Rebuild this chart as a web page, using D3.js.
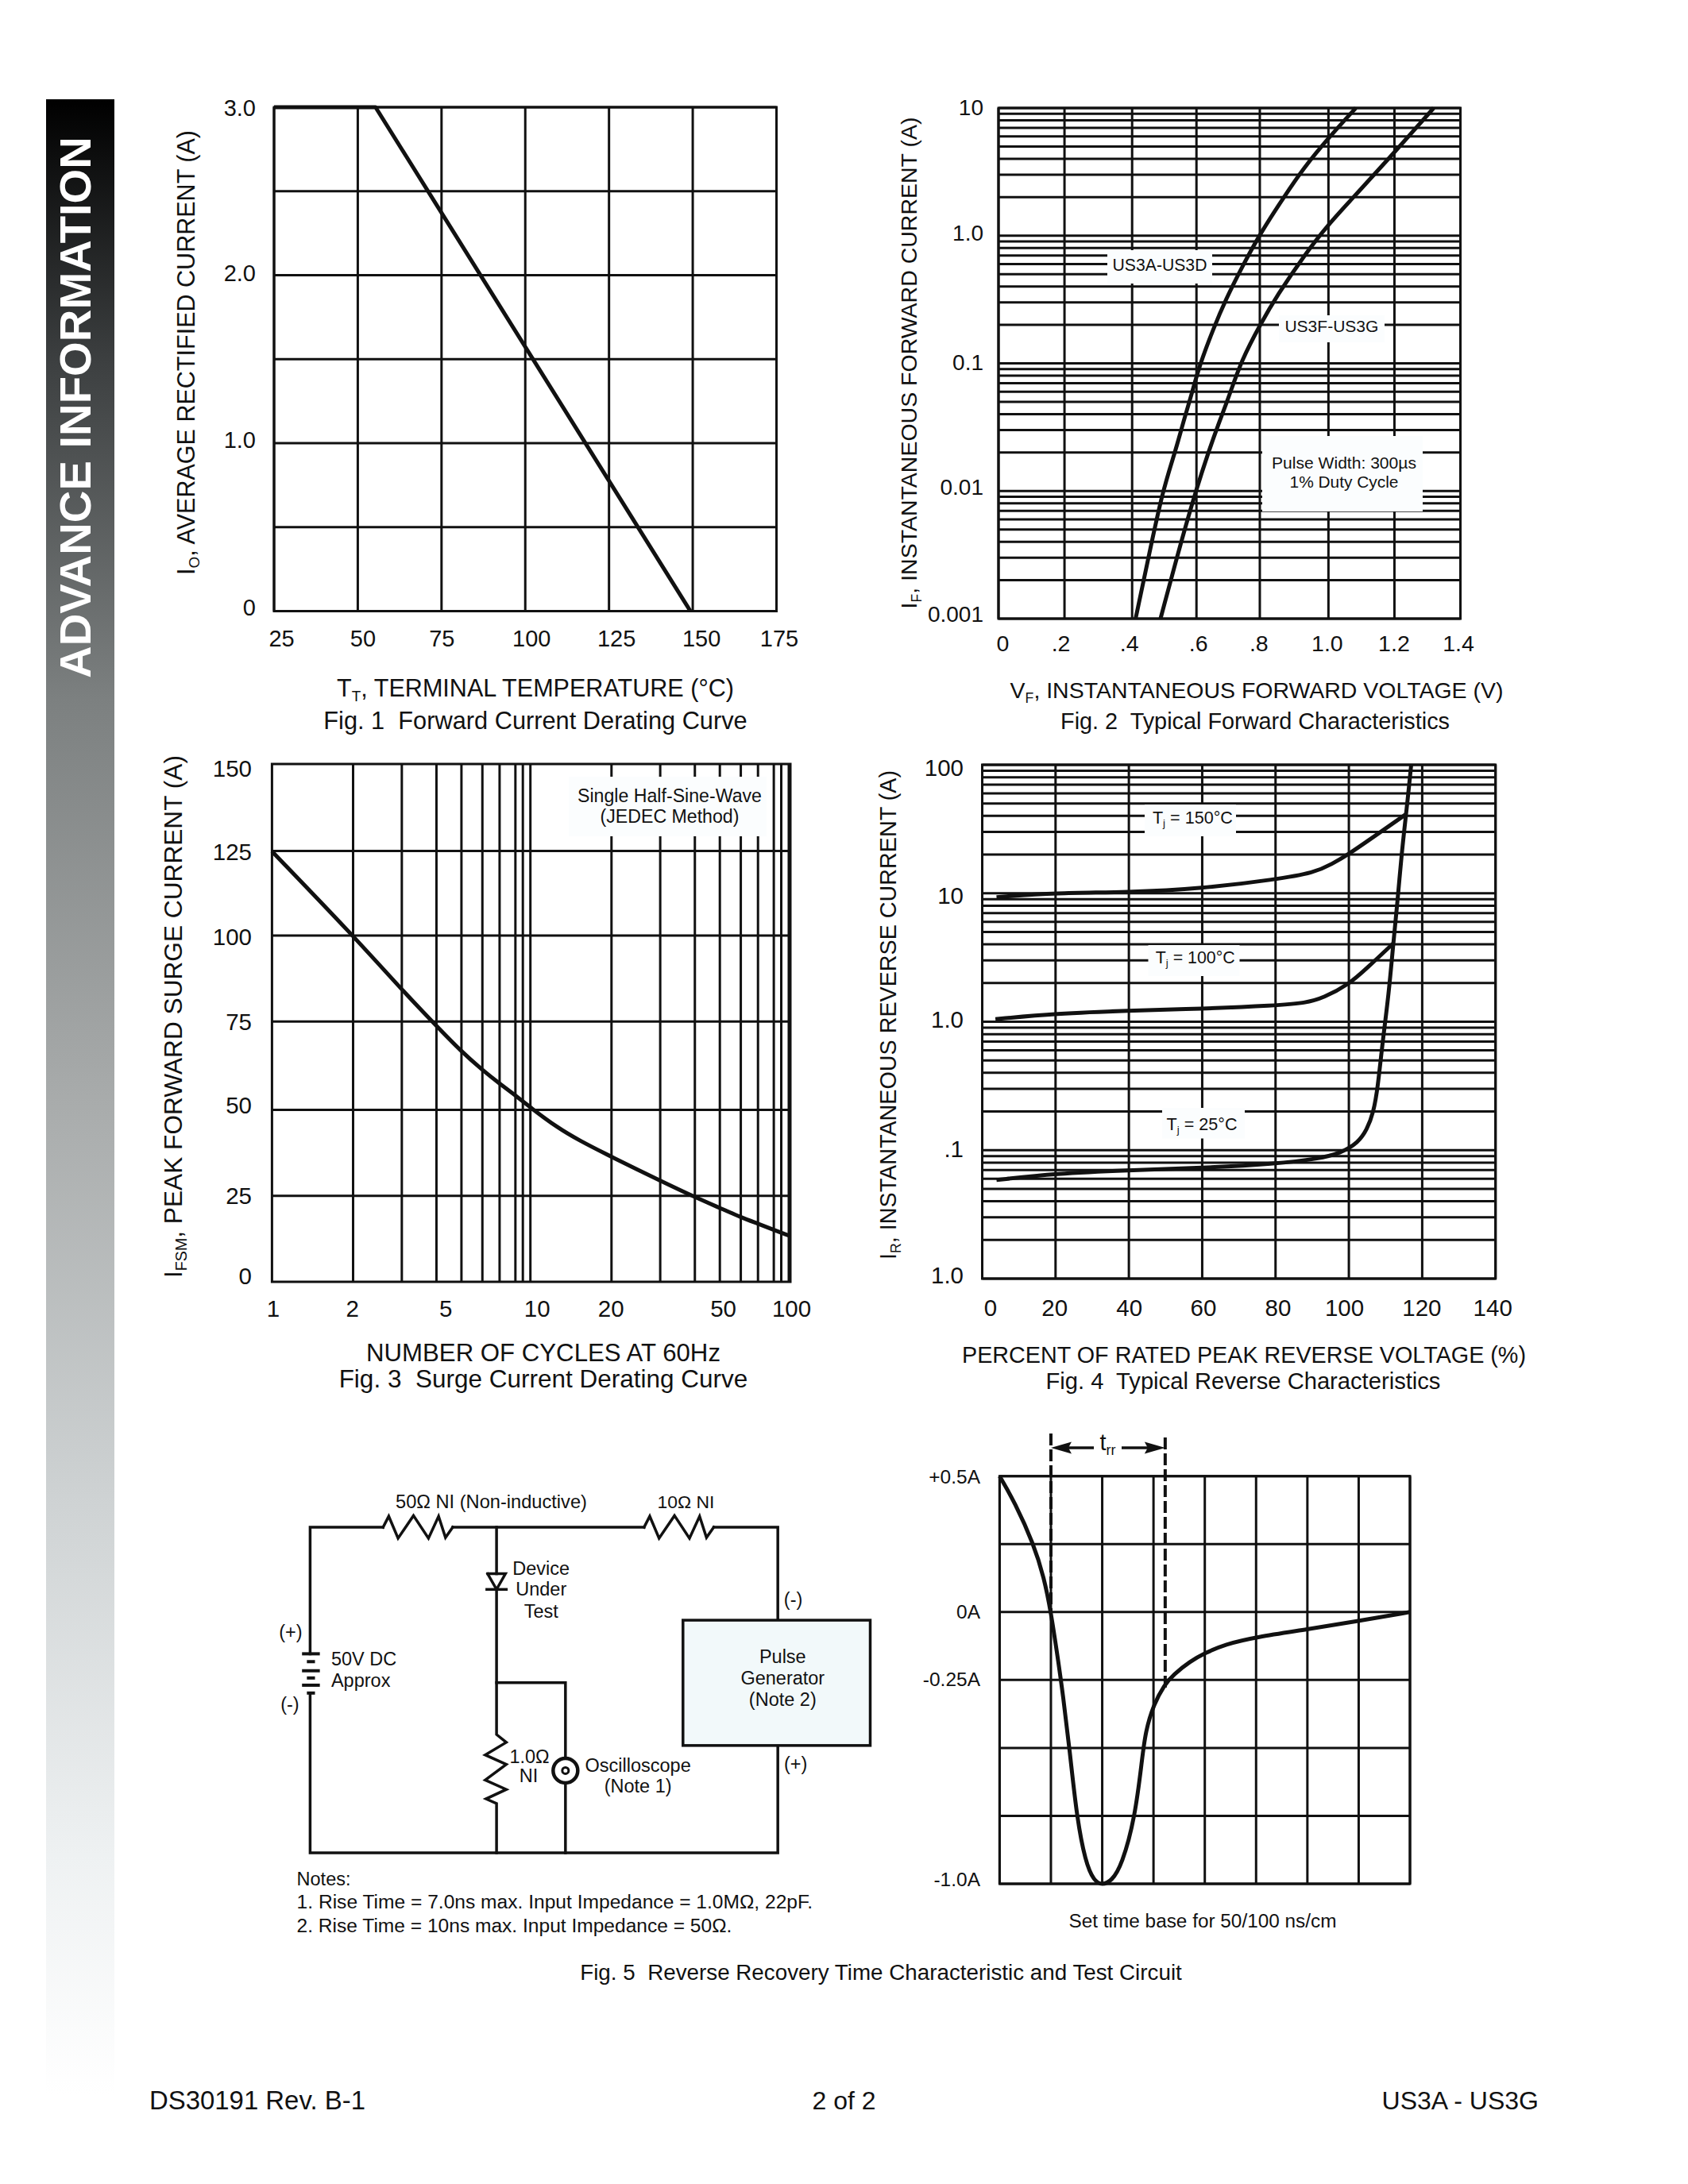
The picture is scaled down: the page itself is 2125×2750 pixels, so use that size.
<!DOCTYPE html>
<html><head><meta charset="utf-8">
<script src="https://cdn.jsdelivr.net/npm/d3@7"></script>
<style>html,body{margin:0;padding:0;background:#fff}svg{display:block}text{font-family:"Liberation Sans",Arial,sans-serif;fill:#111}</style>
</head><body>
<script>
// ---------- Fig 1 data ----------
const fig1Temp = [25, 55.3, 149.3];
const fig1Current = [3, 3, 0];
const fig1XTicks = [25, 50, 75, 100, 125, 150, 175];
const fig1YTicks = [0, 1, 2, 3];
const fig1YTickLabels = ["0", "1.0", "2.0", "3.0"];
const fig1YGrid = [0, .5, 1, 1.5, 2, 2.5, 3];
// ---------- Fig 2 data ----------
const fig2XGrid = [0, .2, .405, .6, .792, 1, 1.2, 1.4];
const fig2XTicks = [0, .2, .4, .6, .8, 1, 1.2, 1.4];
const fig2XTickLabels = ["0", ".2", ".4", ".6", ".8", "1.0", "1.2", "1.4"];
const fig2YTicks = [.001, .01, .1, 1, 10];
const fig2YTickLabels = ["0.001", "0.01", "0.1", "1.0", "10"];
const fig2VoltsAD = [.4155, .453, .497, .537, .561, .585, .609, .652, .689, .737, .794, .867, .922, 1.0015, 1.083];
const fig2AmpsAD = [.001, .00288, .01, .0208, .0354, .0568, .0964, .189, .317, .562, 1.05, 2.04, 3.32, 5.89, 10];
const fig2VoltsFG = [.491, .556, .598, .638, .664, .698, .737, .794, .843, .929, .999, 1.079, 1.204, 1.319];
const fig2AmpsFG = [.001, .00424, .01, .0208, .032, .0545, .1067, .203, .336, .716, 1.22, 2.04, 4.61, 10];
// ---------- Fig 3 data ----------
const fig3XGrid = [2.06, 3.18, 4.33, 5.41, 6.52, 7.6, 8.75, 9.35, 10, 20.6, 31.8, 43.3, 54.1, 65.2, 76, 87.5, 93.5, 100];
const fig3XTicks = [1, 2, 5, 10, 20, 50, 100];
const fig3YGrid = [24.9, 49.8, 75.4, 100.3, 124.8];
const fig3YTicks = [0, 25, 50, 75, 100, 125, 150];
const fig3Cycles = [1, 2.06, 3.17, 4.32, 5.39, 6.49, 7.6, 8.75, 10, 12.7, 15.4, 20.7, 31.8, 43.4, 54.1, 65.2, 76.2, 87.7, 100];
const fig3Surge = [124.7, 100.3, 84.7, 74.2, 66.8, 61.5, 57.4, 54, 50.5, 44.7, 41, 36.1, 29.3, 24.5, 21.4, 18.7, 16.8, 15, 13.4];
// ---------- Fig 4 data ----------
const fig4XTicks = [0, 20, 40, 60, 80, 100, 120, 140];
const fig4YTicks = [.01, .1, 1, 10, 100];
const fig4YTickLabels = ["1.0", ".1", "1.0", "10", "100"];
const fig4Pct150 = [3.9, 20, 39.6, 59.9, 80, 90.7, 95.4, 100, 107.3, 115.6];
const fig4Amp150 = [9.33, 10.07, 10.16, 10.87, 12.8, 14.5, 16.9, 20.2, 28.2, 41.3];
const fig4Pct100 = [3.6, 20, 39.6, 59.9, 80, 88.3, 93, 100, 104.9, 112];
const fig4Amp100 = [1.047, 1.156, 1.22, 1.26, 1.336, 1.4, 1.53, 1.95, 2.61, 4.04];
const fig4Pct25 = [3.9, 20, 39.6, 59.9, 80, 91.9, 97.8, 102.6, 104.9, 106.7, 107.9, 109.1, 110.9, 112.1, 113.2, 114.4, 115.6, 116.2, 117];
const fig4Amp25 = [.0586, .0658, .0698, .0726, .0783, .0859, .0948, .1148, .144, .195, .309, .662, 1.66, 4.04, 8.2, 20.5, 41.3, 59.6, 100];
// ---------- Fig 5 data ----------
const fig5Div = [0, .295, .664, .866, 1, 1.134, 1.235, 1.369, 1.503, 1.671, 1.839, 2, 2.181, 2.383, 2.644, 2.779, 2.846, 3, 3.215, 3.383, 3.718, 3.993, 4.389, 5, 5.993, 6.987, 8];
const fig5Amps = [.5, .404, .25, .127, 0, -.169, -.304, -.513, -.753, -.919, -.99, -1.005, -.99, -.932, -.753, -.537, -.439, -.341, -.267, -.231, -.181, -.152, -.119, -.092, -.064, -.033, 0];
const fig5XGrid = [0, 1, 2, 3, 4, 5, 6, 7, 8];
const fig5YGrid = [.5, .25, 0, -.25, -.5, -.75, -1];
const fig5YTicks = [.5, 0, -.25, -1];
const fig5YTickLabels = ["+0.5A", "0A", "-0.25A", "-1.0A"];
const fig5TrrStart = 1, fig5TrrEnd = 3.228;

const svg = d3.select("body").append("svg").attr("width", 2125).attr("height", 2750);
const INK = "#111";
const defs = svg.append("defs");
const grad = defs.append("linearGradient").attr("id", "bar").attr("x1", 0).attr("y1", 0).attr("x2", 0).attr("y2", 1);
[[0, "#000"], [.13, "#3c3f40"], [.3, "#7c8080"], [.5, "#a8abab"], [.7, "#ced2d3"], [.88, "#eef1f2"], [1, "#fff"]]
  .forEach(s => grad.append("stop").attr("offset", s[0]).attr("stop-color", s[1]));
svg.append("rect").attr("x", 58).attr("y", 125).attr("width", 86).attr("height", 2512).attr("fill", "url(#bar)");

// helpers
function fit(sel, width) {
  const n = sel.node(), fs = parseFloat(sel.attr("font-size")), len = n.getComputedTextLength();
  sel.attr("font-size", (fs * width / len).toFixed(2));
  return sel;
}
function text(parts, x, y, opt = {}) {
  const t = svg.append("text").attr("font-size", opt.size || 30).attr("text-anchor", opt.anchor || "middle");
  if (opt.rot) t.attr("transform", `translate(${x},${y}) rotate(-90)`); else t.attr("x", x).attr("y", y);
  if (opt.weight) t.attr("font-weight", opt.weight);
  if (opt.fill) t.style("fill", opt.fill);
  let afterSub = false;
  (Array.isArray(parts) ? parts : [parts]).forEach(p => {
    if (typeof p === "string") {
      t.append("tspan").attr("dy", afterSub ? "-0.2em" : 0).text(p);
      afterSub = false;
    } else {
      t.append("tspan").attr("font-size", "0.62em").attr("dy", "0.32em").text(p.sub);
      afterSub = true;
    }
  });
  if (opt.width) fit(t, opt.width);
  return t;
}
function hLines(scale, vals, x0, x1, w = 3) {
  svg.append("g").attr("stroke", INK).attr("stroke-width", w).selectAll("line").data(vals).join("line")
    .attr("x1", x0).attr("x2", x1).attr("y1", d => scale(d)).attr("y2", d => scale(d));
}
function vLines(scale, vals, y0, y1, w = 3) {
  svg.append("g").attr("stroke", INK).attr("stroke-width", w).selectAll("line").data(vals).join("line")
    .attr("y1", y0).attr("y2", y1).attr("x1", d => scale(d)).attr("x2", d => scale(d));
}
function frame(x0, x1, y0, y1, w = 3) {
  svg.append("rect").attr("x", x0).attr("y", y0).attr("width", x1 - x0).attr("height", y1 - y0)
    .attr("fill", "none").attr("stroke", INK).attr("stroke-width", w);
}
function box(x, y, w, h, fill = "#fbfdfe") {
  svg.append("rect").attr("x", x).attr("y", y).attr("width", w).attr("height", h).attr("fill", fill);
}
function curve(xs, ys, xScale, yScale, w = 5, kind = d3.curveBasis) {
  const line = d3.line().x((d, i) => xScale(xs[i])).y((d, i) => yScale(ys[i])).curve(kind);
  svg.append("path").datum(xs).attr("d", line).attr("fill", "none").attr("stroke", INK)
    .attr("stroke-width", w).attr("stroke-linejoin", "round");
}
function xLabels(scale, vals, labels, cy, size, nudge) {
  const g = svg.append("g").attr("transform", `translate(0,${cy})`)
    .call(d3.axisBottom(scale).tickValues(vals).tickFormat((d, i) => labels[i]).tickSize(0));
  g.select(".domain").remove();
  g.attr("font-family", null).attr("font-size", size);
  g.selectAll("text").attr("y", 0).attr("dy", "0.36em").attr("dx", (d, i) => nudge[i]);
}
function yLabels(scale, vals, labels, rx, size, nudge) {
  const g = svg.append("g").attr("transform", `translate(${rx},0)`)
    .call(d3.axisLeft(scale).tickValues(vals).tickFormat((d, i) => labels[i]).tickSize(0));
  g.select(".domain").remove();
  g.attr("font-family", null).attr("font-size", size);
  g.selectAll("text").attr("x", 0).attr("dy", "0.36em").attr("transform", (d, i) => `translate(0,${nudge[i]})`);
}

text("ADVANCE INFORMATION", 114, 513, {rot: true, size: 60, weight: "bold", width: 682, fill: "#fff"});

// ---------- Fig 1 ----------
{
  const x = d3.scaleLinear().domain([25, 175]).range([345, 977.5]);
  const y = d3.scaleLinear().domain([0, 3]).range([769.5, 135]);
  hLines(y, fig1YGrid, 345, 977.5);
  vLines(x, fig1XTicks, 135, 769.5);
  frame(345, 977.5, 135, 769.5);
  curve(fig1Temp, fig1Current, x, y, 5, d3.curveLinear);
  xLabels(x, fig1XTicks, fig1XTicks.map(String), 804, 29, [9, 6, 0, 7.5, 9, 10.6, 3]);
  yLabels(y, fig1YTicks, fig1YTickLabels, 322, 29, [-5, -4.5, -3, 0.5]);
  text(["I", {sub: "O"}, ", AVERAGE RECTIFIED CURRENT (A)"], 245, 444, {rot: true, size: 29, width: 560});
  text(["T", {sub: "T"}, ", TERMINAL TEMPERATURE (\u00b0C)"], 674, 877, {size: 29, width: 500});
  text("Fig. 1  Forward Current Derating Curve", 674, 918, {size: 30, width: 525}).style("white-space", "pre");
}
// ---------- Fig 2 ----------
{
  const x = d3.scaleLinear().domain([0, 1.4]).range([1257, 1838.5]);
  const y = d3.scaleLog().domain([.001, 10]).range([779, 136]);
  hLines(y, y.ticks(), 1257, 1838.5);
  vLines(x, fig2XGrid, 136, 779);
  frame(1257, 1838.5, 136, 779);
  box(1394, 315, 132, 42);
  box(1610, 397, 133, 34);
  box(1589, 549, 202, 95);
  curve(fig2VoltsAD, fig2AmpsAD, x, y);
  curve(fig2VoltsFG, fig2AmpsFG, x, y);
  xLabels(x, fig2XTicks, fig2XTickLabels, 810, 28.5, [5, -5, -2, 2, -5, -2, -1, -3]);
  yLabels(y, fig2YTicks, fig2YTickLabels, 1238, 28, [-7, -5.5, -1.6, -4, -2]);
  text("US3A-US3D", 1460, 341, {size: 21, width: 119});
  text("US3F-US3G", 1676.4, 417.6, {size: 21, width: 118});
  text("Pulse Width: 300\u00b5s", 1692, 590, {size: 21, width: 182});
  text("1% Duty Cycle", 1692, 614, {size: 21, width: 137});
  text(["I", {sub: "F"}, ", INSTANTANEOUS FORWARD CURRENT (A)"], 1154, 457, {rot: true, size: 29, width: 619});
  text(["V", {sub: "F"}, ", INSTANTANEOUS FORWARD VOLTAGE (V)"], 1582, 879, {size: 29, width: 621});
  text("Fig. 2  Typical Forward Characteristics", 1580, 918, {size: 30, width: 482}).style("white-space", "pre");
}
// ---------- Fig 3 ----------
{
  const x = d3.scaleLog().domain([1, 100]).range([342.4, 993]);
  const y = d3.scaleLinear().domain([0, 150]).range([1614, 962]);
  hLines(y, fig3YGrid, 342.4, 995);
  vLines(x, fig3XGrid, 962, 1614);
  frame(342.4, 995, 962, 1614);
  box(716, 978, 249, 75);
  curve(fig3Cycles, fig3Surge, x, y);
  xLabels(x, fig3XTicks, fig3XTicks.map(String), 1647, 29.5, [1, 3, -9, 8, 3, 15, 3]);
  yLabels(y, fig3YTicks, fig3YTicks.map(String), 317, 29.5, [-8, 0, -5.4, -2.5, 0, 1.5, 4.5]);
  text("Single Half-Sine-Wave", 843, 1010, {size: 22, width: 232});
  text("(JEDEC Method)", 843, 1036, {size: 22, width: 175});
  text(["I", {sub: "FSM"}, ", PEAK FORWARD SURGE CURRENT (A)"], 229, 1280, {rot: true, size: 29, width: 658});
  text("NUMBER OF CYCLES AT 60Hz", 684, 1713.6, {size: 29, width: 446});
  text("Fig. 3  Surge Current Derating Curve", 684, 1747, {size: 30, width: 506}).style("white-space", "pre");
}
// ---------- Fig 4 ----------
{
  const x = d3.scaleLinear().domain([0, 140]).range([1236.5, 1882.7]);
  const y = d3.scaleLog().domain([.01, 100]).range([1610, 963]);
  hLines(y, y.ticks(), 1236.5, 1882.7);
  vLines(x, fig4XTicks, 963, 1610);
  frame(1236.5, 1882.7, 963, 1610);
  box(1441, 1013, 115, 40);
  box(1445.5, 1190, 115, 39);
  box(1463, 1395, 104, 38.5);
  curve(fig4Pct150, fig4Amp150, x, y);
  curve(fig4Pct100, fig4Amp100, x, y);
  curve(fig4Pct25, fig4Amp25, x, y);
  xLabels(x, fig4XTicks, fig4XTicks.map(String), 1646, 29.5, [10, -1.6, 0, 1, 2.7, -6, -1, -4]);
  yLabels(y, fig4YTicks, fig4YTickLabels, 1213, 29.5, [-5, -2.7, -4, 2, 3]);
  text(["T", {sub: "j"}, " = 150\u00b0C"], 1501.4, 1037, {size: 21, width: 101});
  text(["T", {sub: "j"}, " = 100\u00b0C"], 1504.7, 1212.8, {size: 21, width: 100});
  text(["T", {sub: "j"}, " = 25\u00b0C"], 1513, 1422.8, {size: 21, width: 89});
  text(["I", {sub: "R"}, ", INSTANTANEOUS REVERSE CURRENT (A)"], 1128, 1278, {rot: true, size: 29, width: 616});
  text("PERCENT OF RATED PEAK REVERSE VOLTAGE (%)", 1566, 1716, {size: 29, width: 710});
  text("Fig. 4  Typical Reverse Characteristics", 1565, 1749, {size: 30, width: 489}).style("white-space", "pre");
}
// ---------- Fig 5 waveform ----------
{
  const x = d3.scaleLinear().domain([0, 8]).range([1258.4, 1775]);
  const y = d3.scaleLinear().domain([-1, .5]).range([2372, 1858.7]);
  hLines(y, fig5YGrid, 1258.4, 1775);
  vLines(x, fig5XGrid, 1858.7, 2372);
  frame(1258.4, 1775, 1858.7, 2372);
  svg.append("line").attr("x1", x(fig5TrrStart)).attr("x2", x(fig5TrrStart)).attr("y1", 1805).attr("y2", y(0))
    .attr("stroke", INK).attr("stroke-width", 4).attr("stroke-dasharray", "15 5");
  svg.append("line").attr("x1", x(fig5TrrEnd)).attr("x2", x(fig5TrrEnd)).attr("y1", 1810).attr("y2", 2125)
    .attr("stroke", INK).attr("stroke-width", 4).attr("stroke-dasharray", "15 5");
  curve(fig5Div, fig5Amps, x, y, 5);
  const ax0 = x(fig5TrrStart), ax1 = x(fig5TrrEnd), ay = 1823;
  svg.append("line").attr("x1", ax0 + 20).attr("x2", 1377).attr("y1", ay).attr("y2", ay).attr("stroke", INK).attr("stroke-width", 3.5);
  svg.append("line").attr("x1", 1412).attr("x2", ax1 - 20).attr("y1", ay).attr("y2", ay).attr("stroke", INK).attr("stroke-width", 3.5);
  svg.append("path").attr("d", `M${ax0},${ay}L${ax0 + 26},${ay - 7.5}L${ax0 + 22},${ay}L${ax0 + 26},${ay + 7.5}Z`).attr("fill", INK);
  svg.append("path").attr("d", `M${ax1},${ay}L${ax1 - 26},${ay - 7.5}L${ax1 - 22},${ay}L${ax1 - 26},${ay + 7.5}Z`).attr("fill", INK);
  text(["t", {sub: "rr"}], 1394.5, 1826, {size: 29});
  yLabels(y, fig5YTicks, fig5YTickLabels, 1234, 24.5, [-.5, -1, -2, -6]);
  text("Set time base for 50/100 ns/cm", 1514, 2427, {size: 23.5, width: 337});
}
// ---------- Fig 5 test circuit (drawn in sketch units through two scales) ----------
{
  const cx = d3.scaleLinear().domain([0, 800 * 1.96]).range([320, 1120]);
  const cy = d3.scaleLinear().domain([0, 620 * 2.529]).range([1840, 2460]);
  const cline = d3.line().x(d => cx(d[0])).y(d => cy(d[1]));
  const wire = (pts, w = 3.5) => svg.append("path").attr("d", cline(pts)).attr("fill", "none")
    .attr("stroke", INK).attr("stroke-width", w).attr("stroke-linejoin", "miter").attr("stroke-linecap", "square");
  const resistorH = dx => [[318 + dx, 210], [332 + dx, 175], [355 + dx, 245], [393 + dx, 173], [430 + dx, 245], [455 + dx, 175], [472 + dx, 243], [490 + dx, 210]];
  wire([[138, 613], [138, 210], [318, 210]]);
  wire(resistorH(0));
  wire([[490, 210], [962, 210]]);
  wire(resistorH(644));
  wire([[1134, 210], [1292, 210], [1292, 505]]);
  wire([[1292, 905], [1292, 1247], [138, 1247], [138, 738]]);
  wire([[598, 210], [598, 358]]);
  wire([[576, 358], [620, 358], [598, 408], [576, 358]], 3.5);
  wire([[574, 408], [622, 408]], 3.5);
  wire([[598, 408], [598, 870], [622, 895], [570, 935], [622, 965], [570, 1015], [622, 1045], [572, 1075], [598, 1090], [598, 1247]]);
  wire([[598, 705], [768, 705], [768, 942]]);
  wire([[768, 1028], [768, 1247]]);
  [[613, 118, 162], [638, 130, 150], [667, 118, 162], [690, 130, 150], [713, 118, 162], [738, 130, 150]]
    .forEach(b => svg.append("line").attr("x1", cx(b[1])).attr("x2", cx(b[2])).attr("y1", cy(b[0])).attr("y2", cy(b[0])).attr("stroke", INK).attr("stroke-width", 4));
  svg.append("circle").attr("cx", cx(768)).attr("cy", cy(985)).attr("r", 15.5).attr("fill", "#fff").attr("stroke", INK).attr("stroke-width", 4.5);
  svg.append("circle").attr("cx", cx(768)).attr("cy", cy(985)).attr("r", 4).attr("fill", "#fff").attr("stroke", INK).attr("stroke-width", 3);
  svg.append("rect").attr("x", cx(1058)).attr("y", cy(506)).attr("width", cx(1520) - cx(1058)).attr("height", cy(905) - cy(506))
    .attr("fill", "#f2f9fa").attr("stroke", INK).attr("stroke-width", 3.5);
  const T = (s, a, b, anchor = "middle", w) => text(s, cx(a), cy(b), {size: 23.5, anchor, width: w});
  T("50\u03a9 NI (Non-inductive)", 585, 148, "middle", 241);
  T("10\u03a9 NI", 1065, 148, "middle", 72);
  T("Device", 708, 362); T("Under", 708, 428); T("Test", 708, 497);
  T("(+)", 90, 565); T("(-)", 88, 795); T("(-)", 1330, 460); T("(+)", 1336, 985);
  T("50V DC", 190, 650, "start"); T("Approx", 190, 718, "start");
  T("Pulse", 1304, 643); T("Generator", 1304, 710); T("(Note 2)", 1304, 778);
  T("1.0\u03a9", 630, 960, "start"); T("NI", 677, 1022);
  T("Oscilloscope", 947, 988); T("(Note 1)", 947, 1055);
  T("Notes:", 105, 1350, "start");
  T("1. Rise Time = 7.0ns max. Input Impedance = 1.0M\u03a9, 22pF.", 105, 1425, "start", 650);
  T("2. Rise Time = 10ns max. Input Impedance = 50\u03a9.", 105, 1500, "start", 548);
}
text("Fig. 5  Reverse Recovery Time Characteristic and Test Circuit", 1109, 2493, {size: 27, width: 750}).style("white-space", "pre");
text("DS30191 Rev. B-1", 188, 2656, {size: 32, anchor: "start", width: 272});
text("2 of 2", 1062.5, 2656, {size: 32});
text("US3A - US3G", 1937, 2656, {size: 32, anchor: "end"});
</script>
</body></html>
